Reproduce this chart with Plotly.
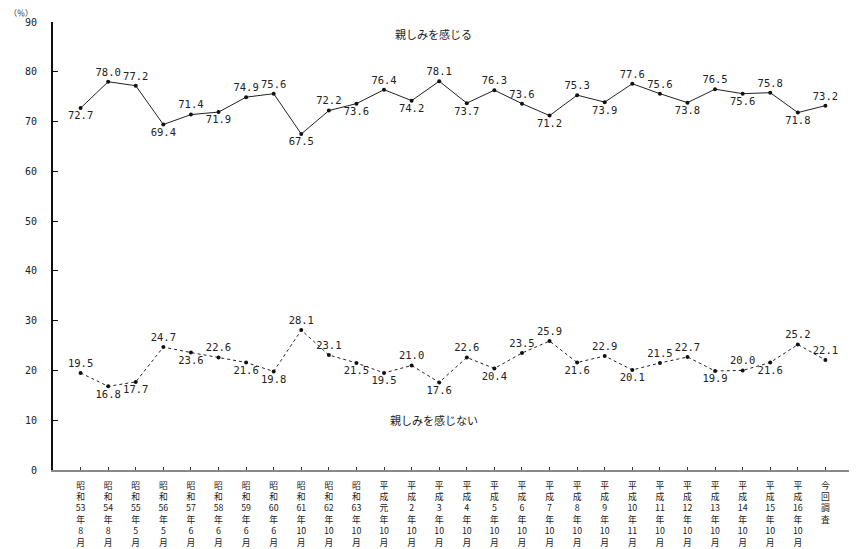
import plotly.graph_objects as go

categories = [
    "昭<br>和<br>53<br>年<br>8<br>月", "昭<br>和<br>54<br>年<br>8<br>月", "昭<br>和<br>55<br>年<br>5<br>月",
    "昭<br>和<br>56<br>年<br>5<br>月", "昭<br>和<br>57<br>年<br>6<br>月", "昭<br>和<br>58<br>年<br>6<br>月",
    "昭<br>和<br>59<br>年<br>6<br>月", "昭<br>和<br>60<br>年<br>6<br>月", "昭<br>和<br>61<br>年<br>10<br>月",
    "昭<br>和<br>62<br>年<br>10<br>月", "昭<br>和<br>63<br>年<br>10<br>月", "平<br>成<br>元<br>年<br>10<br>月",
    "平<br>成<br>2<br>年<br>10<br>月", "平<br>成<br>3<br>年<br>10<br>月", "平<br>成<br>4<br>年<br>10<br>月",
    "平<br>成<br>5<br>年<br>10<br>月", "平<br>成<br>6<br>年<br>10<br>月", "平<br>成<br>7<br>年<br>10<br>月",
    "平<br>成<br>8<br>年<br>10<br>月", "平<br>成<br>9<br>年<br>10<br>月", "平<br>成<br>10<br>年<br>11<br>月",
    "平<br>成<br>11<br>年<br>10<br>月", "平<br>成<br>12<br>年<br>10<br>月", "平<br>成<br>13<br>年<br>10<br>月",
    "平<br>成<br>14<br>年<br>10<br>月", "平<br>成<br>15<br>年<br>10<br>月", "平<br>成<br>16<br>年<br>10<br>月",
    "今<br>回<br>調<br>査",
]

feel_close = [72.7, 78.0, 77.2, 69.4, 71.4, 71.9, 74.9, 75.6, 67.5, 72.2, 73.6, 76.4, 74.2, 78.1,
              73.7, 76.3, 73.6, 71.2, 75.3, 73.9, 77.6, 75.6, 73.8, 76.5, 75.6, 75.8, 71.8, 73.2]
not_close = [19.5, 16.8, 17.7, 24.7, 23.6, 22.6, 21.6, 19.8, 28.1, 23.1, 21.5, 19.5, 21.0, 17.6,
             22.6, 20.4, 23.5, 25.9, 21.6, 22.9, 20.1, 21.5, 22.7, 19.9, 20.0, 21.6, 25.2, 22.1]

close_pos = ["b", "t", "t", "b", "t", "b", "t", "t", "b", "t", "b", "t", "b", "t",
             "b", "t", "t", "b", "t", "b", "t", "t", "b", "t", "b", "t", "b", "t"]
not_pos = ["t", "b", "b", "t", "b", "t", "b", "b", "t", "t", "b", "b", "t", "b",
           "t", "b", "t", "t", "b", "t", "b", "t", "t", "b", "t", "b", "t", "t"]

series_names = ["親しみを感じる", "親しみを感じない"]

x = list(range(len(categories)))
posmap = {"t": "top center", "b": "bottom center"}
numfont = dict(family="DejaVu Sans Mono, monospace", size=10.5, color="#222")

fig = go.Figure()
fig.add_trace(go.Scatter(
    x=x, y=feel_close, mode="lines+markers+text",
    line=dict(color="#222", width=1),
    marker=dict(color="#111", size=4),
    text=[f"{v:.1f}" for v in feel_close],
    textposition=[posmap[p] for p in close_pos],
    textfont=numfont, showlegend=False, cliponaxis=False,
))
fig.add_trace(go.Scatter(
    x=x, y=not_close, mode="lines+markers+text",
    line=dict(color="#222", width=1, dash="dot"),
    marker=dict(color="#111", size=4),
    text=[f"{v:.1f}" for v in not_close],
    textposition=[posmap[p] for p in not_pos],
    textfont=numfont, showlegend=False, cliponaxis=False,
))

fig.add_annotation(x=12.8, y=87.5, text=series_names[0], showarrow=False,
                   font=dict(family="Noto Sans CJK JP", size=11, color="#222"))
fig.add_annotation(x=12.8, y=10, text=series_names[1], showarrow=False,
                   font=dict(family="Noto Sans CJK JP", size=11, color="#222"))
fig.add_annotation(xref="paper", yref="paper", x=-0.04, y=1.005, xanchor="center", yanchor="bottom",
                   text="（％）", showarrow=False,
                   font=dict(family="Noto Sans CJK JP", size=8, color="#222"))

# page body has an 8px margin; figure is sized so plot area lands where the reference has it
fig.update_layout(
    width=849, height=541,
    margin=dict(l=45, r=4, t=14, b=79),
    paper_bgcolor="white", plot_bgcolor="white",
    xaxis=dict(
        range=[-1, 28], tickmode="array", tickvals=list(range(29)),
        ticktext=categories + [""], automargin=False,
        showgrid=False, zeroline=False, showline=True, linecolor="#888", linewidth=2,
        ticks="inside", ticklen=3, tickcolor="#333",
        tickfont=dict(family="Noto Sans CJK JP", size=8.8, color="#222"),
        tickangle=0, ticklabelstandoff=6,
    ),
    yaxis=dict(
        range=[0, 90], tickmode="linear", dtick=10, tick0=0, automargin=False,
        showgrid=False, zeroline=False, showline=True, linecolor="#111", linewidth=2,
        ticks="inside", ticklen=5, tickcolor="#111",
        tickfont=dict(family="DejaVu Sans Mono, monospace", size=10, color="#222"),
        ticklabelstandoff=12,
    ),
)

fig.write_html("out.html")
